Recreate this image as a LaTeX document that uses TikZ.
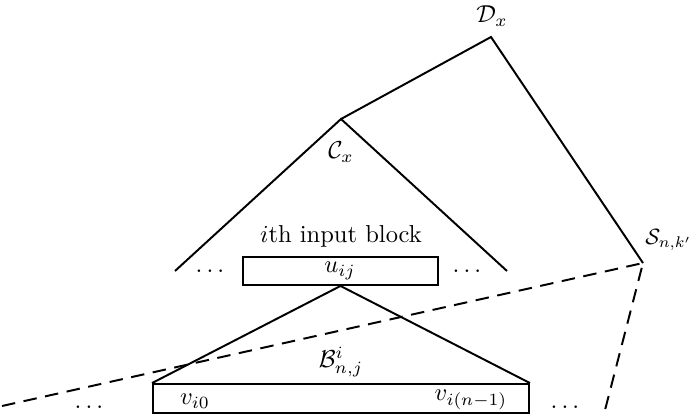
\documentclass[tikz,border=0pt]{standalone}
\usepackage{amsmath}
\begin{document}
\begin{tikzpicture}[x=0.408pt,y=-0.408pt,
  edge/.style={line width=0.8pt},
  dashline/.style={line width=0.8pt,dash pattern=on 5.5pt off 3.5pt},
  blockbox/.style={draw,line width=0.8pt,inner sep=0pt,rectangle},
  lab/.style={inner sep=0pt}]
\useasboundingbox (0,0) rectangle (689,416);
% tree vertices
\coordinate (D) at (491,37);
\coordinate (C) at (341,119);
\coordinate (S) at (643,263);
\coordinate (Cl) at (175,271);
\coordinate (Cr) at (507,271);
\coordinate (DL) at (2,406);
\coordinate (DR) at (604,414);
% labels
\node[lab] (Dlab) at (492,16) {$\mathcal{D}_x$};
\node[lab] (Clab) at (341,152) {$\mathcal{C}_x$};
\node[lab,anchor=west,scale=0.9] (Slab) at (645,240) {$\mathcal{S}_{n,k'}$};
\node[lab] (iblk) at (341,236) {$i$th input block};
% upper block
\node[blockbox,minimum width=79.6pt,minimum height=11.4pt] (ub) at (340.5,271) {};
\node[lab] (u) at (340,271) {$u_{ij}$};
\node[lab] (dl1) at (212,271) {$\dots$};
\node[lab] (dr1) at (469,271) {$\dots$};
% lower block
\node[blockbox,minimum width=153.4pt,minimum height=11.8pt] (lb) at (341,398.5) {};
\node[lab] (v0) at (195,401) {$v_{i0}$};
\node[lab] (vn) at (471,400) {$v_{i(n-1)}$};
\node[lab] (B) at (341,362) {$\mathcal{B}^i_{n,j}$};
\node[lab] (dl2) at (91,407) {$\dots$};
\node[lab] (dr2) at (567,407) {$\dots$};
% edges
\draw[edge] (C) -- (D) -- (S);
\draw[edge] (Cl) -- (C) -- (Cr);
\draw[edge] (lb.north west) -- (ub.south) -- (lb.north east);
\draw[dashline] (DL) -- (S) -- (DR);
\end{tikzpicture}
\end{document}
